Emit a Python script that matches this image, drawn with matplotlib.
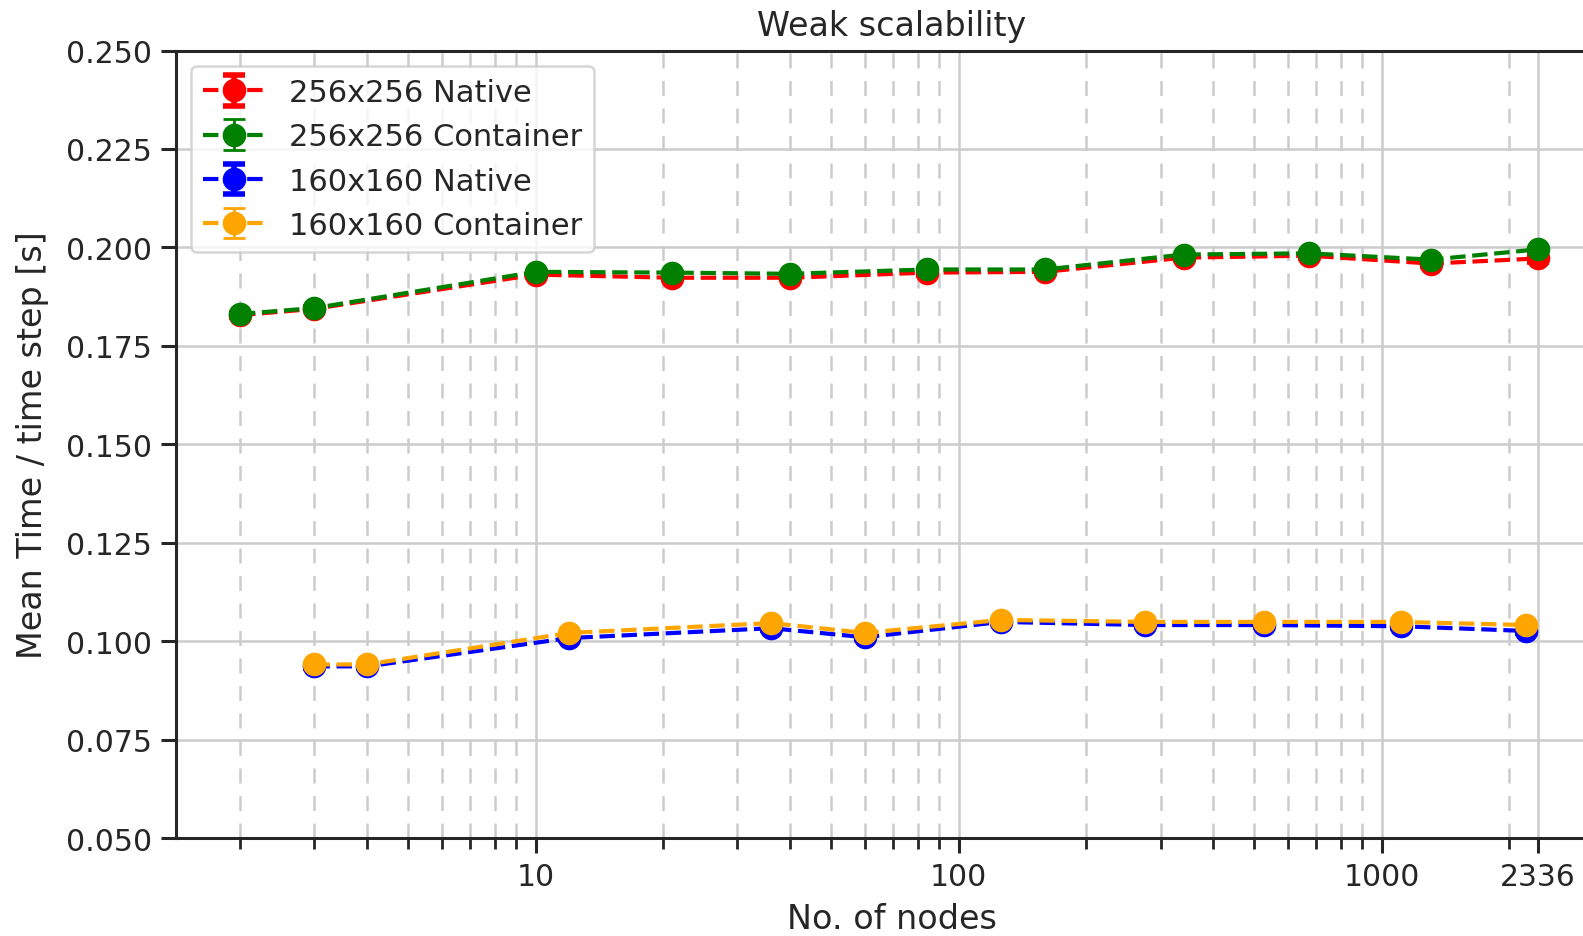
import matplotlib
matplotlib.use('Agg')
import matplotlib.pyplot as plt
import matplotlib.ticker as mticker
import seaborn as sns

# nodes for the 256x256 runs and the 160x160 runs
nodes_256 = [2, 3, 10, 21, 40, 84, 160, 340, 673, 1309, 2336]
nodes_160 = [3, 4, 12, 36, 60, 126, 276, 528, 1109, 2193]

native_256 = [0.1828, 0.1844, 0.1931, 0.1923, 0.1923, 0.1936, 0.1938, 0.1974, 0.1979, 0.1959, 0.1972]
container_256 = [0.1831, 0.1846, 0.1938, 0.1936, 0.1933, 0.1944, 0.1944, 0.1982, 0.1985, 0.1969, 0.1995]
native_160 = [0.0936, 0.0936, 0.1008, 0.1033, 0.1010, 0.1049, 0.1041, 0.1041, 0.1038, 0.1026]
container_160 = [0.0941, 0.0941, 0.1021, 0.1046, 0.1021, 0.1054, 0.1049, 0.1049, 0.1049, 0.1041]

err_native_256 = [0.0005, 0.0004, 0.0005, 0.0004, 0.0004, 0.0005, 0.0004, 0.0005, 0.0005, 0.0005, 0.0008]
err_container_256 = [0.0004, 0.0004, 0.0004, 0.0004, 0.0004, 0.0004, 0.0004, 0.0004, 0.0004, 0.0004, 0.0005]
err_native_160 = [0.0004, 0.0004, 0.0004, 0.0005, 0.0004, 0.0004, 0.0004, 0.0004, 0.0004, 0.0005]
err_container_160 = [0.0003, 0.0003, 0.0003, 0.0004, 0.0003, 0.0003, 0.0003, 0.0003, 0.0003, 0.0003]

x_major = [10, 100, 1000, 2336]

sns.set_style('ticks')
plt.rcParams['font.family'] = ['DejaVu Sans']
plt.rcParams['text.color'] = '#262626'
plt.rcParams['axes.labelcolor'] = '#262626'
plt.rcParams['xtick.color'] = '#262626'
plt.rcParams['ytick.color'] = '#262626'

fig = plt.figure(figsize=(15.83, 9.37), dpi=100)
ax = fig.add_axes([0.111, 0.1045, 0.889, 0.8405])

ax.errorbar(nodes_256, native_256, yerr=err_native_256, color='red', ls='--', marker='o',
            ms=16, lw=3, capsize=8, elinewidth=4, capthick=4, label='256x256 Native')
ax.errorbar(nodes_256, container_256, yerr=err_container_256, color='green', ls='--', marker='o',
            ms=16, lw=3, capsize=8, elinewidth=2, capthick=2, label='256x256 Container')
ax.errorbar(nodes_160, native_160, yerr=err_native_160, color='blue', ls='--', marker='o',
            ms=16, lw=3, capsize=8, elinewidth=4, capthick=4, label='160x160 Native')
ax.errorbar(nodes_160, container_160, yerr=err_container_160, color='orange', ls='--', marker='o',
            ms=16, lw=3, capsize=8, elinewidth=2, capthick=2, label='160x160 Container')

ax.set_xscale('log')
ax.set_xlim(1.41, 2990)
ax.set_ylim(0.05, 0.25)
ax.set_xticks(x_major)
ax.xaxis.set_major_formatter(mticker.FixedFormatter([str(v) for v in x_major]))
ax.xaxis.set_minor_locator(mticker.LogLocator(base=10, subs=range(2, 10), numticks=20))
ax.xaxis.set_minor_formatter(mticker.NullFormatter())
ax.yaxis.set_major_formatter(mticker.FormatStrFormatter('%.3f'))

ax.grid(which='major', color='#cccccc', lw=1.8, ls='-')
ax.grid(which='minor', axis='x', color='#cccccc', lw=1.8, ls='--', dashes=(6, 5))
ax.set_axisbelow(True)

for s in ['left', 'bottom', 'top']:
    ax.spines[s].set_linewidth(2.2)
    ax.spines[s].set_color('#262626')
ax.spines['right'].set_visible(False)

ax.tick_params(axis='both', which='major', labelsize=21.5, width=2.2, length=11, pad=6)
ax.tick_params(axis='x', which='minor', width=2, length=8)

ax.set_title('Weak scalability', fontsize=24, pad=11, x=0.509)
ax.set_xlabel('No. of nodes', fontsize=24)
ax.xaxis.set_label_coords(0.509, -0.081, transform=ax.transAxes)
ax.set_ylabel('Mean Time / time step [s]', fontsize=24, labelpad=12)

leg = ax.legend(loc='upper left', fontsize=22, frameon=True, borderaxespad=0.5)
leg.get_frame().set_edgecolor('#cccccc')
leg.get_frame().set_linewidth(1.8)

fig.savefig('out.png', dpi=100)
